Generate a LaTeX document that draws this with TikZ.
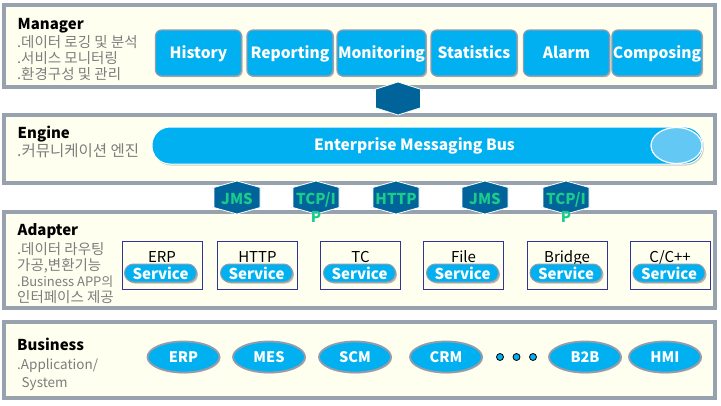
\documentclass[tikz,border=0pt]{standalone}
\usepackage{fontspec}
\setmainfont{Noto Sans CJK KR}
\usetikzlibrary{shapes.geometric,shadows}

\definecolor{panelgray}{RGB}{151,162,174}
\definecolor{panelfill}{RGB}{255,255,240}
\definecolor{btnblue}{RGB}{0,176,240}
\definecolor{btnedge}{RGB}{150,155,170}
\definecolor{arrowblue}{RGB}{0,99,153}
\definecolor{protogreen}{RGB}{26,204,140}
\definecolor{notegray}{RGB}{125,125,125}
\definecolor{svcline}{RGB}{51,51,153}
\definecolor{busend}{RGB}{100,200,245}

\begin{document}
\begin{tikzpicture}[x = 1pt, y = -1pt]
\tikzstyle{PanelStyle}=[draw = panelgray, line width = 4pt, fill = panelfill]
\tikzstyle{TitleStyle}=[anchor = base west, inner sep = 0pt,
                        font = \fontsize{15}{18}\selectfont\bfseries]
\tikzstyle{NoteStyle}=[anchor = base west, inner sep = 0pt, text = notegray,
                       font = \fontsize{14.5}{17}\selectfont]
\tikzstyle{ButtonStyle}=[rectangle, rounded corners = 6pt,
                         minimum width = 86pt, minimum height = 46pt,
                         inner sep = 1pt, text height = 11pt, text depth = 0pt,
                         fill = btnblue, draw = btnedge, line width = 1.2pt, text = white,
                         drop shadow = {shadow xshift = 1.2pt, shadow yshift = -1.2pt, fill = black!50},
                         font = \fontsize{15.5}{18}\selectfont\bfseries]
\tikzstyle{ArrowStyle}=[fill = arrowblue, draw = white, line width = 0.8pt]
\tikzstyle{ProtoStyle}=[anchor = base, inner sep = 0pt, align = center, text = protogreen,
                        font = \fontsize{15}{18}\selectfont\bfseries]
\tikzstyle{SvcBoxStyle}=[rectangle, draw = svcline, line width = 0.9pt,
                         minimum width = 80pt, minimum height = 48pt]
\tikzstyle{SvcNameStyle}=[anchor = base, inner sep = 0pt,
                          font = \fontsize{15}{18}\selectfont]
\tikzstyle{PillStyle}=[rectangle, rounded corners = 9pt,
                       minimum width = 72pt, minimum height = 18pt, inner sep = 0pt,
                       fill = btnblue, draw = btnedge, line width = 1pt, text = white,
                       drop shadow = {shadow xshift = 1.5pt, shadow yshift = -1.5pt, fill = black!55},
                       font = \fontsize{15}{18}\selectfont\bfseries]
\tikzstyle{AppStyle}=[ellipse, minimum width = 72pt, minimum height = 31pt, inner sep = 0pt,
                      fill = btnblue, draw = btnedge, line width = 1.8pt, text = white,
                      drop shadow = {shadow xshift = 1pt, shadow yshift = -1pt, fill = black!40},
                      font = \fontsize{14.5}{17}\selectfont\bfseries]
\tikzstyle{DotStyle}=[circle, minimum size = 7pt, inner sep = 0pt,
                      fill = btnblue, draw = black, line width = 0.8pt]

\useasboundingbox (0,0) rectangle (721,405);

% layers
\draw[PanelStyle] (4,5) rectangle (715,87);
\draw[PanelStyle] (4,114.5) rectangle (715,182.5);
\draw[PanelStyle] (4,211.5) rectangle (715,308);
\draw[PanelStyle] (4,321.5) rectangle (715,397.5);

% Manager
\node[TitleStyle] (mgr) at (17.5,29) {Manager};
\node[NoteStyle] (mgr-n1) at (17,47) {.데이터 로깅 및 분석};
\node[NoteStyle] (mgr-n2) at (17,63) {.서비스 모니터링};
\node[NoteStyle] (mgr-n3) at (17,79) {.환경구성 및 관리};
\node[ButtonStyle] (history) at (198.5,53) {History};
\node[ButtonStyle] (reporting) at (290,53) {Reporting};
\node[ButtonStyle] (monitoring) at (381.5,53) {Monitoring};
\node[ButtonStyle] (statistics) at (474,53) {Statistics};
\node[ButtonStyle] (alarm) at (566.5,53) {Alarm};
\node[ButtonStyle] (composing) at (657,53) {Composing};

% Manager <-> Engine
\filldraw[ArrowStyle] (398,82) -- ++(25,8) -- ++(-2.5,0) -- ++(0,17) -- ++(2.5,0) -- ++(-25,8)
  -- ++(-25,-8) -- ++(2.5,0) -- ++(0,-17) -- ++(-2.5,0) -- cycle;

% Engine
\node[TitleStyle] (eng) at (17.5,138) {Engine};
\node[NoteStyle, font = \fontsize{15.5}{18}\selectfont] (eng-n1) at (17,156) {.커뮤니케이션 엔진};
\node[rectangle, rounded corners = 18pt, minimum width = 551pt, minimum height = 37pt,
      fill = btnblue, draw = white, line width = 1pt,
      drop shadow = {shadow xshift = 1pt, shadow yshift = -1.5pt, fill = black!40}] (bus) at (427.5,145.5) {};
\node[ellipse, minimum width = 51pt, minimum height = 36pt, fill = busend,
      draw = white, line width = 1.2pt] (bus-end) at (676.5,145.5) {};
\node[text = white, font = \fontsize{15.5}{18}\selectfont\bfseries] (bus-label) at (414.5,145.5) {Enterprise Messaging Bus};

% Engine <-> Adapter
\filldraw[ArrowStyle] (237,181) -- ++(25,7) -- ++(-2,0) -- ++(0,19) -- ++(2,0) -- ++(-25,7)
  -- ++(-25,-7) -- ++(2,0) -- ++(0,-19) -- ++(-2,0) -- cycle;
\filldraw[ArrowStyle] (316,181) -- ++(25,7) -- ++(-2,0) -- ++(0,19) -- ++(2,0) -- ++(-25,7)
  -- ++(-25,-7) -- ++(2,0) -- ++(0,-19) -- ++(-2,0) -- cycle;
\filldraw[ArrowStyle] (396,181) -- ++(25,7) -- ++(-2,0) -- ++(0,19) -- ++(2,0) -- ++(-25,7)
  -- ++(-25,-7) -- ++(2,0) -- ++(0,-19) -- ++(-2,0) -- cycle;
\filldraw[ArrowStyle] (485,181) -- ++(25,7) -- ++(-2,0) -- ++(0,19) -- ++(2,0) -- ++(-25,7)
  -- ++(-25,-7) -- ++(2,0) -- ++(0,-19) -- ++(-2,0) -- cycle;
\filldraw[ArrowStyle] (566,181) -- ++(25,7) -- ++(-2,0) -- ++(0,19) -- ++(2,0) -- ++(-25,7)
  -- ++(-25,-7) -- ++(2,0) -- ++(0,-19) -- ++(-2,0) -- cycle;
\node[ProtoStyle] (jms1) at (237,204) {JMS};
\node[ProtoStyle] (tcp1) at (316,222) {TCP/I\\P};
\node[ProtoStyle] (http) at (396,204) {HTTP};
\node[ProtoStyle] (jms2) at (485,204) {JMS};
\node[ProtoStyle] (tcp2) at (566,222) {TCP/I\\P};

% Adapter
\node[TitleStyle] (adp) at (17.5,235) {Adapter};
\node[NoteStyle] (adp-n1) at (17,254) {.데이터 라우팅};
\node[NoteStyle] (adp-n2) at (17,270) {가공,변환기능};
\node[NoteStyle, font = \fontsize{13}{16}\selectfont] (adp-n3) at (17,286) {.Business APP의};
\node[NoteStyle] (adp-n4) at (17,302) {인터페이스 제공};
\node[SvcBoxStyle] (svc-erp) at (162,265) {};
\node[SvcBoxStyle] (svc-http) at (257.5,265) {};
\node[SvcBoxStyle] (svc-tc) at (360.5,265) {};
\node[SvcBoxStyle] (svc-file) at (463.5,265) {};
\node[SvcBoxStyle] (svc-bridge) at (567,265) {};
\node[SvcBoxStyle] (svc-cpp) at (670,265) {};
\node[SvcNameStyle] (svc-erp-name) at (162,262) {ERP};
\node[SvcNameStyle] (svc-http-name) at (257.5,262) {HTTP};
\node[SvcNameStyle] (svc-tc-name) at (360.5,262) {TC};
\node[SvcNameStyle] (svc-file-name) at (463.5,262) {File};
\node[SvcNameStyle] (svc-bridge-name) at (567,262) {Bridge};
\node[SvcNameStyle] (svc-cpp-name) at (670,262) {C/C++};
\node[PillStyle] (svc-erp-pill) at (160.5,273) {Service};
\node[PillStyle] (svc-http-pill) at (256.5,273) {Service};
\node[PillStyle] (svc-tc-pill) at (359.5,273) {Service};
\node[PillStyle] (svc-file-pill) at (462.5,273) {Service};
\node[PillStyle] (svc-bridge-pill) at (566,273) {Service};
\node[PillStyle] (svc-cpp-pill) at (669,273) {Service};

% Business
\node[TitleStyle] (bus-title) at (17,350) {Business};
\node[NoteStyle, font = \fontsize{13.5}{16}\selectfont] (biz-n1) at (17,369) {.Application/};
\node[NoteStyle, font = \fontsize{13.5}{16}\selectfont] (biz-n2) at (21.5,387) {System};
\node[AppStyle] (app-erp) at (183.5,357) {ERP};
\node[AppStyle] (app-mes) at (269,357) {MES};
\node[AppStyle] (app-scm) at (355,357) {SCM};
\node[AppStyle] (app-crm) at (446,357) {CRM};
\node[DotStyle] (dot1) at (500,357) {};
\node[DotStyle] (dot2) at (516.5,357) {};
\node[DotStyle] (dot3) at (533,357) {};
\node[AppStyle] (app-b2b) at (585,357) {B2B};
\node[AppStyle] (app-hmi) at (665,357) {HMI};
\end{tikzpicture}
\end{document}
